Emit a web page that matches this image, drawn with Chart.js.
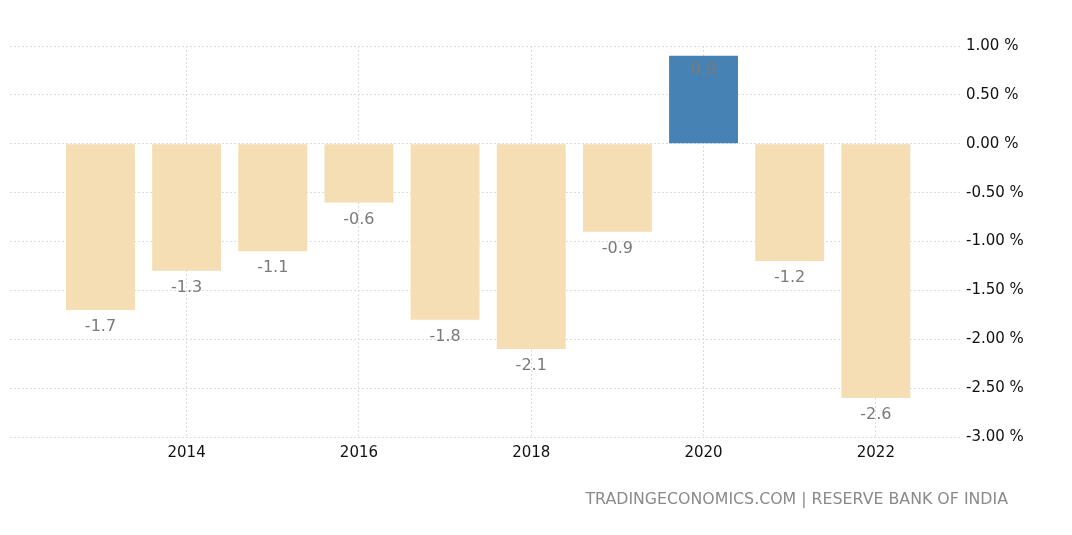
<!DOCTYPE html>
<html>
<head>
<meta charset="utf-8">
<script src="https://cdn.jsdelivr.net/npm/chart.js@4/dist/chart.umd.min.js"></script>
<style>
  html, body { margin: 0; padding: 0; background: #fff; }
  #wrap { position: relative; width: 1072px; height: 535px; }
  #c { position: absolute; left: 0; top: 0; }
  #footer { position: absolute; right: 64px; top: 489px; font-family: "DejaVu Sans", sans-serif; font-size: 15.8px; color: #8a8a8a; white-space: nowrap; }
</style>
</head>
<body>
<div id="wrap">
  <canvas id="c" width="1072" height="535"></canvas>
  <div id="footer">TRADINGECONOMICS.COM | RESERVE BANK OF INDIA</div>
</div>
<script>
const years = [2013, 2014, 2015, 2016, 2017, 2018, 2019, 2020, 2021, 2022];
const values = [-1.7, -1.3, -1.1, -0.6, -1.8, -2.1, -0.9, 0.9, -1.2, -2.6];
const xTickYears = [2014, 2016, 2018, 2020, 2022];
const yTicks = [1, 0.5, 0, -0.5, -1, -1.5, -2, -2.5, -3];

const points = years.map((y, i) => ({ x: y, y: values[i] }));
const colors = values.map(v => v >= 0 ? '#4682b4' : '#f5deb3');

const labelPlugin = {
  id: 'barLabels',
  afterDatasetsDraw(chart) {
    const ctx = chart.ctx;
    const meta = chart.getDatasetMeta(0);
    ctx.save();
    ctx.font = '16px "DejaVu Sans", sans-serif';
    ctx.fillStyle = '#7a7a7a';
    ctx.textAlign = 'center';
    ctx.textBaseline = 'middle';
    meta.data.forEach((bar, i) => {
      const v = values[i];
      const y = v < 0 ? bar.y + 17 : bar.y + 14;
      ctx.fillText(String(v), bar.x, y);
    });
    ctx.restore();
  }
};

new Chart(document.getElementById('c'), {
  type: 'bar',
  data: {
    datasets: [{
      data: points,
      backgroundColor: colors,
      borderWidth: 0,
      barPercentage: 0.8,
      categoryPercentage: 1.0
    }]
  },
  options: {
    responsive: false,
    animation: false,
    layout: { padding: { left: 10, right: 0, top: 46, bottom: 0 } },
    plugins: { legend: { display: false }, tooltip: { enabled: false } },
    scales: {
      x: {
        type: 'linear',
        offset: false,
        min: 2011.95,
        max: 2023.0,
        afterBuildTicks: (s) => { s.ticks = xTickYears.map(v => ({ value: v })); },
        afterFit: (s) => { s.height = 98; },
        ticks: {
          color: '#111',
          font: { family: '"DejaVu Sans", sans-serif', size: 15 },
          padding: 7,
          maxRotation: 0,
          callback: (v) => String(v)
        },
        grid: { offset: false, color: '#dcdcdc', drawTicks: false, tickLength: 0 },
        border: { display: false, dash: [2, 2] }
      },
      y: {
        position: 'right',
        min: -3,
        max: 1,
        afterBuildTicks: (s) => { s.ticks = yTicks.map(v => ({ value: v })); },
        afterFit: (s) => { s.width = 110; },
        ticks: {
          color: '#111',
          font: { family: '"DejaVu Sans", sans-serif', size: 15 },
          padding: 4,
          callback: (v) => v.toFixed(2) + ' %'
        },
        grid: { color: '#dcdcdc', drawTicks: false },
        border: { display: false, dash: [2, 2] }
      }
    }
  },
  plugins: [labelPlugin]
});
</script>
</body>
</html>
